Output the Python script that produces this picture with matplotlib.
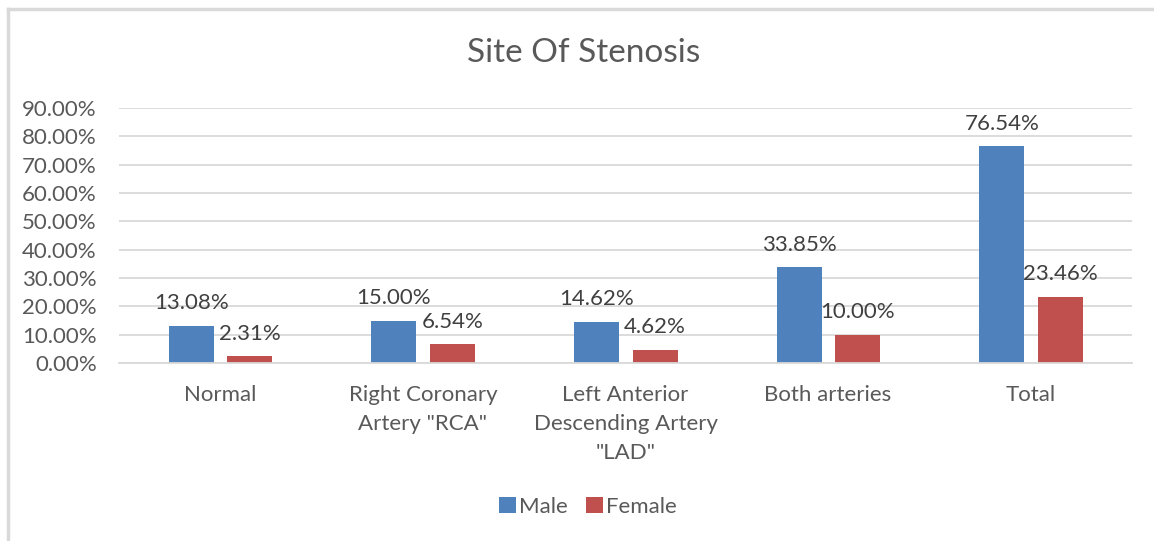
import matplotlib.pyplot as plt
import numpy as np
from matplotlib.lines import Line2D

categories = ['Normal', 'Right Coronary\nArtery "RCA"', 'Left Anterior\nDescending Artery\n"LAD"',
              'Both arteries', 'Total']
male = [13.08, 15.00, 14.62, 33.85, 76.54]
female = [2.31, 6.54, 4.62, 10.00, 23.46]
series_names = ['Male', 'Female']

blue = '#4F81BD'
red = '#C0504D'
txt = '#595959'
grid = '#D9D9D9'

plt.rcParams['font.family'] = ['Lato', 'DejaVu Sans']

fig = plt.figure(figsize=(11.54, 5.41), dpi=100)
# chart frame (only top/left visible in reference)
fig.add_artist(Line2D([8 / 1154, 1], [1 - 9 / 541, 1 - 9 / 541], color=grid, lw=2.5, transform=fig.transFigure))
fig.add_artist(Line2D([8 / 1154, 8 / 1154], [0, 1 - 9 / 541], color=grid, lw=2.5, transform=fig.transFigure))

ax = fig.add_axes([119 / 1154, 1 - 363 / 541, (1132 - 119) / 1154, (363 - 108) / 541])

x = np.arange(len(categories))
w = 0.222
b1 = ax.bar(x - 0.143, male, w, color=blue, label=series_names[0])
b2 = ax.bar(x + 0.146, female, w, color=red, label=series_names[1])

for bars, vals in ((b1, male), (b2, female)):
    for r, v in zip(bars, vals):
        ax.annotate(f'{v:.2f}%', (r.get_x() + r.get_width() / 2, v), xytext=(0, 9),
                    textcoords='offset points', ha='center', va='bottom',
                    fontsize=16, color='#404040')

ax.set_xlim(-0.5, len(categories) - 0.5)
ax.set_ylim(0, 90)
ax.set_yticks(np.arange(0, 91, 10))
ax.set_yticklabels([f'{t:.2f}%' for t in np.arange(0, 91, 10)])
ax.set_xticks(x)
ax.set_xticklabels(categories, linespacing=1.55, va='top')
ax.tick_params(axis='both', length=0, labelsize=16, labelcolor=txt)
ax.tick_params(axis='y', pad=16)
ax.tick_params(axis='x', pad=16)
ax.yaxis.grid(True, color=grid, lw=1.3)
ax.set_axisbelow(True)
for s in ['top', 'right', 'left']:
    ax.spines[s].set_visible(False)
ax.spines['bottom'].set_color(grid)
ax.spines['bottom'].set_linewidth(1.3)

fig.text(584 / 1154, 1 - 53 / 541, 'Site Of Stenosis', ha='center', va='center', fontsize=24, color=txt)

fig.legend(loc='center', bbox_to_anchor=(588 / 1154, 1 - 507 / 541), ncol=2, frameon=False,
           fontsize=16, labelcolor=txt, handlelength=0.75, handleheight=0.75, handletextpad=0.15,
           columnspacing=0.8)

plt.savefig('out.png', dpi=100)
